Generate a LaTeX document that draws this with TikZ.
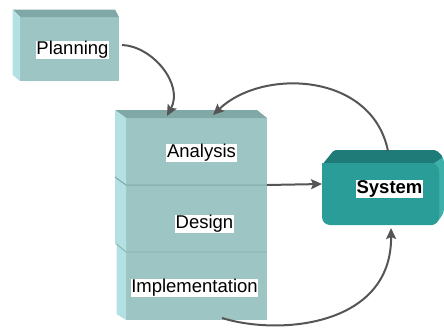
\documentclass[tikz,border=0pt]{standalone}
\usepackage{fontspec}
\setmainfont{Liberation Sans}
\usetikzlibrary{arrows.meta,calc}

\definecolor{boxfront}{HTML}{9DC5C4}
\definecolor{boxside}{HTML}{B3E0E2}
\definecolor{boxtop}{HTML}{80A8A6}
\definecolor{boxseam}{HTML}{86AFAD}
\definecolor{sysfront}{HTML}{2A9D98}
\definecolor{systop}{HTML}{1F7B77}
\definecolor{sysside}{HTML}{3DB0AA}
\definecolor{flow}{HTML}{555555}

\begin{document}
\begin{tikzpicture}[x=1pt,y=-1pt,
  front/.style={fill=boxfront, draw=none, inner sep=0pt, outer sep=0pt, anchor=north west},
  lbl/.style={fill=white, inner xsep=0.6pt, inner ysep=0.4pt,
    font=\fontsize{18.5}{20}\selectfont, text height=13.6pt, text depth=3.9pt},
  flowline/.style={draw=flow, line width=2pt},
  flowarrow/.style={flowline, -{Stealth[length=11pt,width=10pt,inset=2pt]}}]

\useasboundingbox (0,0) rectangle (444,327);

% Planning block
\node[front, minimum width=99pt, minimum height=64pt] (plan) at (20,17) {};
\fill[boxtop] ($(plan.north west)+(-7.3,-7.5)$) -- ($(plan.north east)+(-4,-7.5)$)
  -- (plan.north east) -- (plan.north west) -- cycle;
\fill[boxside] ($(plan.north west)+(-7.3,-7.5)$) -- (plan.north west)
  -- (plan.south west) -- ($(plan.south west)+(-7.3,-6)$) -- cycle;
\node[lbl] (planT) at (72.5,50) {Planning};

% Stacked blocks, drawn bottom to top
\node[front, minimum width=141pt, minimum height=68pt] (impl) at (126,252) {};
\fill[boxside] ($(impl.north west)+(-9.5,-8)$) -- (impl.north west)
  -- (impl.south west) -- ($(impl.south west)+(-9.5,-6)$) -- cycle;

\node[front, minimum width=141pt, minimum height=67pt] (des) at (126,185) {};
\fill[boxside] ($(des.north west)+(-11,-8)$) -- (des.north west)
  -- (des.south west) -- ($(des.south west)+(-11,-8)$) -- cycle;
\draw[boxseam, line width=0.8pt] ($(impl.north west)+(-9.5,-8)$) -- (impl.north west) -- (impl.north east);

\node[front, minimum width=141pt, minimum height=67pt] (ana) at (126,118) {};
\fill[boxtop] ($(ana.north west)+(-11,-8)$) -- ($(ana.north east)+(-10,-8)$)
  -- (ana.north east) -- (ana.north west) -- cycle;
\fill[boxside] ($(ana.north west)+(-11,-8)$) -- (ana.north west)
  -- (ana.south west) -- ($(ana.south west)+(-11,-8)$) -- cycle;
\draw[boxtop, line width=1pt] ($(ana.south west)+(-11,-8)$) -- (ana.south west) -- (ana.south east);

\node[lbl] (anaT) at (201.5,153) {Analysis};
\node[lbl] (desT) at (204.5,224) {Design};
\node[lbl] (implT) at (194.5,288) {Implementation};

% System block: side and top faces first, then the rounded front face
\node[draw=none, inner sep=0pt, outer sep=0pt, anchor=north west,
  minimum width=117pt, minimum height=62pt] (sys) at (322,163) {};
\fill[sysside, rounded corners=4pt] ($(sys.north east)+(-10,-13)$) -- ($(sys.north east)+(-3,-13)$)
  -- ($(sys.north east)+(5,-5)$) -- ($(sys.south east)+(5,-12)$)
  -- ($(sys.south east)+(-4,0)$) -- ($(sys.south east)+(-10,0)$) -- cycle;
\fill[systop, rounded corners=2pt] ($(sys.north west)+(0,2)$) -- ($(sys.north west)+(12,-13)$)
  -- ($(sys.north east)+(-3,-13)$) -- ($(sys.north east)+(4,-6)$)
  -- ($(sys.north east)+(-8,2)$) -- cycle;
\fill[sysfront, rounded corners=8pt] (sys.north west) rectangle (sys.south east);
\fill[sysfront] (sys.north west) rectangle ($(sys.north west)+(10,10)$);
\node[lbl, font=\fontsize{18.5}{20}\selectfont\bfseries] (sysT) at (389.5,189) {System};

% Connectors
\draw[flowarrow] ($(plan.east)+(3,-4)$) .. controls (152,46) and (184,84) .. ($(ana.north)+(-29.5,-2)$);
\draw[flowarrow] ($(sys.north)+(7.5,-12)$) .. controls (372,72) and (262,68) .. ($(ana.north)+(16.5,-3)$);
\draw[flowarrow] (ana.south east) -- ($(sys.west)+(0,-10)$);
\draw[flowarrow] ($(impl.south)+(25.5,-2)$) .. controls (280,336) and (392,326) .. ($(sys.south)+(10.5,3)$);

\end{tikzpicture}
\end{document}
